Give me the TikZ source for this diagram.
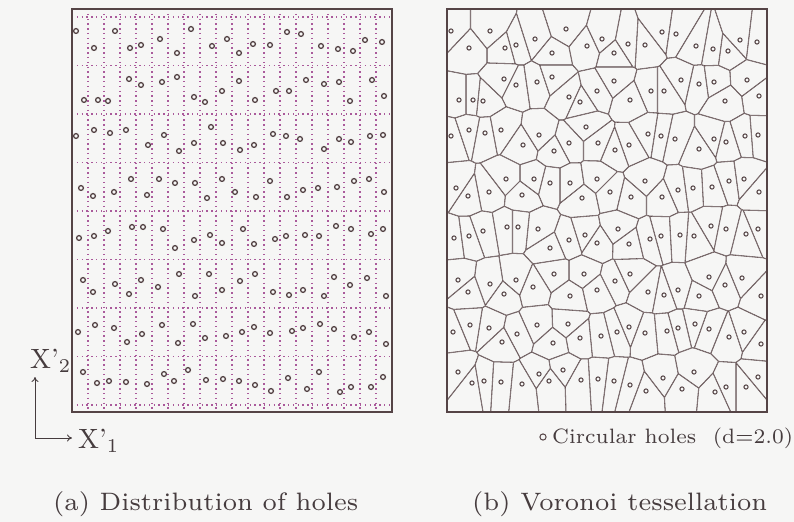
\documentclass[tikz,border=0pt]{standalone}
\usetikzlibrary{arrows.meta}
\definecolor{bgc}{RGB}{246,246,245}
\definecolor{ink}{RGB}{85,68,70}
\definecolor{vorc}{RGB}{100,82,84}
\definecolor{dotc}{RGB}{170,90,155}
\definecolor{txt}{RGB}{70,60,62}
\tikzset{
  frame/.style={draw=ink, line width=1.8bp},
  dotline/.style={draw=dotc, line width=1.2bp, dash pattern=on 1.4bp off 3.4bp},
  holeL/.style={draw=ink, line width=1.3bp},
  holeR/.style={draw=ink, line width=1.0bp},
  vor/.style={draw=vorc, line width=1.05bp},
  lbl/.style={inner sep=0pt, text=txt, anchor=base west},
  arr/.style={draw=txt, line width=0.9bp, -{To[length=5bp,width=7bp]}},
}
\def\pts{76/31,115/31,191/29,227/39,94/48,130/48,141/45,160/39,177/53,212/46,287/32,301/34,239/53,253/44,270/45,321/46,338/49,353/51,365/40,382/42,
129/79,141/85,162/82,177/77,222/91,84/100,98/100,108/101,194/97,205/102,239/81,255/100,276/91,289/91,306/80,324/84,339/82,350/101,372/80,384/96,
76/136,94/130,110/133,126/130,164/135,211/127,148/145,194/143,223/143,273/134,286/136,300/139,339/139,351/142,370/136,383/135,254/145,179/151,240/150,324/149,
131/179,159/179,175/183,195/183,222/179,81/188,93/196,114/192,147/195,207/198,235/192,270/181,256/197,287/197,303/190,318/188,337/187,354/181,369/179,384/192,
79/238,94/236,108/231,132/227,143/227,163/229,175/248,194/240,210/235,222/243,243/229,254/244,275/239,286/236,305/235,319/236,336/226,351/229,371/234,383/229,
83/280,141/280,179/274,209/274,240/281,255/274,334/277,367/278,93/292,115/284,129/294,158/287,195/296,222/290,273/292,289/295,303/290,324/296,350/285,386/296,
78/332,95/325,114/328,127/342,142/334,162/325,178/343,193/324,205/338,226/336,242/332,254/327,270/333,292/331,303/328,320/324,334/329,354/337,369/332,386/344,
83/372,97/383,109/381,126/382,147/384,164/374,174/381,188/370,206/380,223/379,239/381,255/385,271/391,288/378,307/389,319/372,340/392,351/387,371/387,383/377}
\begin{document}
\begin{tikzpicture}[x=1bp,y=-1bp]
\fill[bgc] (0,0) rectangle (794,522);
\useasboundingbox (0,0) rectangle (794,522);
% ---------- (a) distribution of holes ----------
\foreach \k in {0,...,18} \draw[dotline] (88+16*\k,9) -- (88+16*\k,412);
\foreach \k in {0,...,8} \draw[dotline] (72,17+48.5*\k) -- (392,17+48.5*\k);
\foreach \hx/\hy in \pts \draw[holeL] (\hx,\hy) circle[radius=2.4bp];
\draw[frame] (72,9) rectangle (392,412);
% ---------- (b) Voronoi tessellation ----------
\begin{scope}[shift={(375,0)}]
\foreach \pxa/\pya in \pts {%
  \begin{scope}
    \clip (72,9) rectangle (392,412);
    \gdef\segs{}%
    \foreach \pxb/\pyb in \pts {%
      \edef\qdd{\the\numexpr(\pxb-\pxa)*(\pxb-\pxa)+(\pyb-\pya)*(\pyb-\pya)\relax}%
      \ifnum\qdd>0 \ifnum\qdd<10000
        \pgfmathsetmacro\qlen{sqrt(\qdd)}%
        \pgfmathsetmacro\qux{(\pxb-\pxa)/\qlen*2000}%
        \pgfmathsetmacro\quy{(\pyb-\pya)/\qlen*2000}%
        \pgfmathsetmacro\qmx{(\pxa+\pxb)/2}%
        \pgfmathsetmacro\qmy{(\pya+\pyb)/2}%
        \pgfmathsetmacro\qax{\qmx-\quy}\pgfmathsetmacro\qay{\qmy+\qux}%
        \pgfmathsetmacro\qbx{\qmx+\quy}\pgfmathsetmacro\qby{\qmy-\qux}%
        \pgfmathsetmacro\qcx{\qmx-\qux}\pgfmathsetmacro\qcy{\qmy-\quy}%
        \clip (\qax,\qay) -- (\qbx,\qby) -- (\qcx,\qcy) -- cycle;
        \xdef\segs{\segs (\qax,\qay) -- (\qbx,\qby)}%
      \fi\fi
    }%
    \edef\qtmp{\noexpand\draw[vor] \segs;}\qtmp
  \end{scope}
}
\foreach \hx/\hy in \pts \draw[holeR] (\hx,\hy) circle[radius=2.1bp];
\draw[frame] (72,9) rectangle (392,412);
\end{scope}
% ---------- labels ----------
\node[lbl] (x2) at (30,368) {\scalebox{2.8}{\fontsize{10}{12}\selectfont X’$_2$}};
\node[lbl] (x1) at (78,448) {\scalebox{2.8}{\fontsize{10}{12}\selectfont X’$_1$}};
\coordinate (org) at (35,438);
\coordinate (ytip) at (35,377);
\coordinate (xtip) at (72,438);
\draw[arr] (org) -- (ytip);
\draw[arr] (org) -- (xtip);
\draw[draw=ink, line width=1.0bp] (543,437) circle[radius=3.1bp] coordinate (leg);
\node[lbl] (legtxt) at (552,443) {\resizebox{241bp}{!}{\fontsize{7}{8}\selectfont Circular holes\hspace{0.8em}(d=2.0)}};
\node[lbl] (capa) at (53,510) {\resizebox{305bp}{!}{\fontsize{7}{8}\selectfont (a) Distribution of holes}};
\node[lbl] (capb) at (472,510) {\resizebox{295bp}{!}{\fontsize{7}{8}\selectfont (b) Voronoi tessellation}};
\end{tikzpicture}
\end{document}
